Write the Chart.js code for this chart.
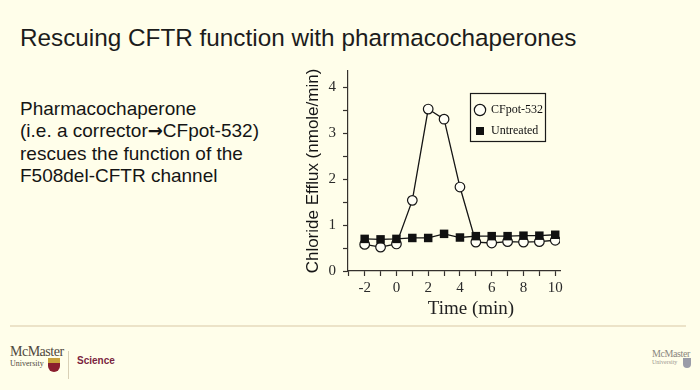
<!DOCTYPE html>
<html>
<head>
<meta charset="utf-8">
<script src="https://cdn.jsdelivr.net/npm/chart.js@4"></script>
<style>
  html, body { margin: 0; padding: 0; }
  body { width: 700px; height: 390px; background: #fffeea; position: relative; overflow: hidden; font-family: 'Liberation Sans', Arial, sans-serif; }
  #title { position: absolute; left: 20px; top: 24px; font-size: 24.3px; color: #1c1c1c; white-space: nowrap; }
  #body { position: absolute; left: 20px; top: 98px; font-size: 19px; line-height: 22.3px; color: #151515; white-space: nowrap; }
  #body .arr { font-family: 'DejaVu Sans', sans-serif; font-weight: bold; font-size: 18px; }
  #chartwrap { position: absolute; left: 290px; top: 55px; width: 300px; height: 275px; }
  #rule { position: absolute; left: 10px; top: 325px; width: 676px; height: 2px; background: #ece3c8; }
  .mc { position: absolute; font-family: 'Liberation Serif', 'Times New Roman', serif; color: #4f4840; white-space: nowrap; }
  #mc1 { left: 10px; top: 344px; font-size: 14px; letter-spacing: -0.5px; }
  #uni1 { left: 10px; top: 359px; font-size: 8px; }
  #crest1 { position: absolute; left: 48px; top: 358px; width: 12px; height: 14px; background: linear-gradient(#c9a23a 0 35%, #8a1e2e 35% 100%); border-radius: 0 0 6px 6px; }
  #divider { position: absolute; left: 68px; top: 351px; width: 1px; height: 28px; background: #d9d0b6; }
  #sci { position: absolute; left: 77px; top: 355px; font-family: 'Liberation Sans', Arial, sans-serif; font-weight: bold; font-size: 10px; color: #7a2440; }
  #mc2 { left: 652px; top: 348px; font-size: 10px; color: #8a8680; letter-spacing: -0.4px; }
  #uni2 { left: 652px; top: 359px; font-size: 6px; color: #9a968f; }
  #crest2 { position: absolute; left: 683px; top: 358px; width: 8px; height: 10px; background: #9a9ca8; border-radius: 0 0 4px 4px; }
</style>
</head>
<body>
<div id="title">Rescuing CFTR function with pharmacochaperones</div>
<div id="body">Pharmacochaperone<br>(i.e. a corrector<span class="arr">→</span>CFpot-532)<br>rescues the function of the<br>F508del-CFTR channel</div>
<div id="chartwrap"><canvas id="c" width="300" height="275"></canvas></div>
<div id="rule"></div>
<div class="mc" id="mc1">McMaster</div>
<div class="mc" id="uni1">University</div>
<div id="crest1"></div>
<div id="divider"></div>
<div id="sci">Science</div>
<div class="mc" id="mc2">McMaster</div>
<div class="mc" id="uni2">University</div>
<div id="crest2"></div>
<script>
// ---- data ----
const timeMin = [-2, -1, 0, 1, 2, 3, 4, 5, 6, 7, 8, 9, 10];
const cfpot532 = [0.58, 0.52, 0.59, 1.54, 3.53, 3.31, 1.83, 0.63, 0.61, 0.64, 0.63, 0.64, 0.67];
const untreated = [0.70, 0.69, 0.70, 0.72, 0.72, 0.81, 0.73, 0.76, 0.76, 0.76, 0.77, 0.77, 0.79];
const seriesNames = ['CFpot-532', 'Untreated'];
const xTickLabels = ['-2', '0', '2', '4', '6', '8', '10'];
const yTickLabels = ['0', '1', '2', '3', '4'];
const xTitle = 'Time (min)';
const yTitle = 'Chloride Efflux (nmole/min)';

const toPoints = (ys) => timeMin.map((x, i) => ({ x: x, y: ys[i] }));

const axisColor = '#35312d';
const serif = "'Liberation Serif', 'Times New Roman', serif";

const legendFrame = {
  id: 'legendFrame',
  afterLayout(chart) {
    const lg = chart.legend;
    const left = 176, top = 40, h = 120;
    const w = lg.width;
    lg.left = left; lg.top = top; lg.right = left + w; lg.bottom = top + h; lg.height = h;
  },
  afterDraw(chart) {
    const ctx = chart.ctx;
    ctx.save();
    ctx.strokeStyle = '#1a1a1a';
    ctx.lineWidth = 1.2;
    ctx.strokeRect(180.5, 38.5, 75, 48);
    // x-axis title, placed off-centre under the axis as in the source figure
    const xs = chart.scales.x;
    ctx.fillStyle = '#222222';
    ctx.font = '19px ' + serif;
    ctx.textAlign = 'center';
    ctx.textBaseline = 'middle';
    ctx.fillText(xTitle, (xs.left + xs.right) / 2 + 17, xs.bottom - 14);
    ctx.restore();
  }
};

new Chart(document.getElementById('c'), {
  type: 'scatter',
  data: {
    datasets: [
      {
        label: seriesNames[1],
        data: toPoints(untreated),
        showLine: true,
        borderColor: '#151515',
        borderWidth: 1.3,
        backgroundColor: '#111111',
        pointStyle: 'rect',
        pointRadius: 6,
        pointHoverRadius: 6,
        pointBackgroundColor: '#111111',
        pointBorderColor: '#111111',
        pointBorderWidth: 0,
        tension: 0
      },
      {
        label: seriesNames[0],
        data: toPoints(cfpot532),
        showLine: true,
        borderColor: '#151515',
        borderWidth: 1.3,
        backgroundColor: '#fffff6',
        pointStyle: 'circle',
        pointRadius: 4.8,
        pointHoverRadius: 4.8,
        pointBackgroundColor: '#fffff6',
        pointBorderColor: '#151515',
        pointBorderWidth: 1.2,
        tension: 0
      }
    ]
  },
  options: {
    responsive: false,
    animation: false,
    devicePixelRatio: 1,
    layout: { padding: { left: 9, top: 15, right: 30, bottom: 7 } },
    plugins: {
      tooltip: { enabled: false },
      legend: {
        position: 'chartArea',
        align: 'start',
        reverse: true,
        labels: {
          usePointStyle: true,
          boxWidth: 10,
          boxHeight: 8,
          padding: 9,
          color: '#111111',
          font: { family: serif, size: 12 }
        }
      }
    },
    scales: {
      x: {
        type: 'linear',
        min: -3.05,
        max: 10.3,
        afterFit(s) { s.height = 52; },
        border: { display: true, color: axisColor, width: 1.2 },
        grid: { drawOnChartArea: false, drawTicks: true, tickLength: 5, color: axisColor, tickWidth: 1.2 },
        ticks: {
          stepSize: 1,
          includeBounds: false,
          autoSkip: false,
          maxRotation: 0,
          padding: 3,
          color: '#2a2a2a',
          font: { family: serif, size: 15 },
          callback: (v) => xTickLabels.includes(String(v)) ? String(v) : ''
        },
        title: { display: false, text: xTitle }
      },
      y: {
        type: 'linear',
        min: 0,
        max: 4.36,
        afterFit(s) { s.width = 49; },
        border: { display: true, color: axisColor, width: 1.2 },
        grid: { drawOnChartArea: false, drawTicks: true, tickLength: 5, color: axisColor, tickWidth: 1.2 },
        ticks: {
          stepSize: 0.5,
          includeBounds: false,
          autoSkip: false,
          padding: 7,
          color: '#2a2a2a',
          font: { family: serif, size: 15 },
          callback: (v) => yTickLabels.includes(String(v)) ? String(v) : ''
        },
        title: {
          display: true,
          text: yTitle,
          color: '#151515',
          padding: { top: 4, bottom: 4 },
          font: { family: "'Liberation Sans', Arial, sans-serif", size: 17 }
        }
      }
    }
  },
  plugins: [legendFrame]
});
</script>
</body>
</html>
